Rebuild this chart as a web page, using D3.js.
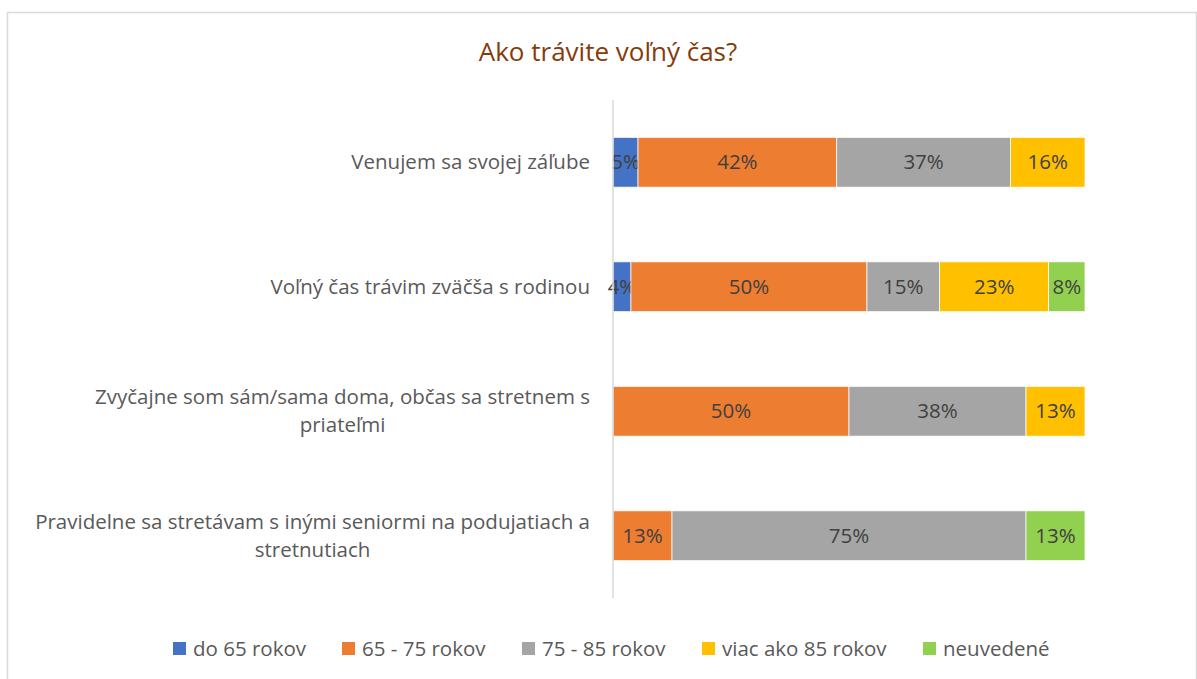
<!DOCTYPE html>
<html>
<head>
<meta charset="utf-8">
<script src="https://cdn.jsdelivr.net/npm/d3@7"></script>
<style>
  body { margin: 0; background: #fff; }
  svg { font-family: "Open Sans", sans-serif; }
</style>
</head>
<body>
<svg id="chart" width="1197" height="679"></svg>
<script>
// categories, top to bottom
var categories = [
    ["Venujem sa svojej záľube"],
    ["Voľný čas trávim zväčša s rodinou"],
    ["Zvyčajne som sám/sama doma, občas sa stretnem s", "priateľmi"],
    ["Pravidelne sa stretávam s inými seniormi na podujatiach a", "stretnutiach"]
];
var seriesNames = ["do 65 rokov", "65 - 75 rokov", "75 - 85 rokov", "viac ako 85 rokov", "neuvedené"];
var seriesColors = ["#4472c4", "#ed7d31", "#a5a5a5", "#ffc000", "#92d050"];
// share of answers in %, one row per category, one column per series
var values = [
    [5.3, 42.1, 36.8, 15.8, 0],
    [3.8, 50.0, 15.4, 23.1, 7.7],
    [0, 50.0, 37.5, 12.5, 0],
    [0, 12.5, 75.0, 0, 12.5]
];

var svg = d3.select("#chart");
var l_left = 613, l_right = 1085, l_top = 100, l_bottom = 598;
var l_fs = 20.5;

// frame
svg.append("rect")
    .attr("x", 7.5).attr("y", 12.5)
    .attr("width", 1189).attr("height", 700)
    .attr("fill", "none").attr("stroke", "#d9d9d9").attr("stroke-width", 1.5);

svg.append("text")
    .attr("x", 608).attr("y", 52)
    .attr("text-anchor", "middle")
    .attr("dy", "0.35em")
    .attr("font-size", 26)
    .attr("fill", "#843c0c")
    .text("Ako trávite voľný čas?");

var x = d3.scaleLinear().domain([0, 100]).range([l_left, l_right]);
var y = d3.scaleBand().domain(d3.range(categories.length)).range([l_top, l_bottom]).paddingInner(0.6).paddingOuter(0.3);

var stackData = values.map(function(row, i) {
    var o = { i: i };
    row.forEach(function(v, k) { o[k] = v; });
    return o;
});
var stack = d3.stack().keys(d3.range(seriesNames.length))(stackData);

var layers = svg.selectAll(".layer")
    .data(stack)
    .enter().append("g")
    .attr("class", "layer")
    .attr("fill", function(d) { return seriesColors[d.key]; });

layers.selectAll("rect")
    .data(function(d) { return d.filter(function(p) { return p[1] - p[0] > 0; }); })
    .enter().append("rect")
    .attr("x", function(d) { return x(d[0]); })
    .attr("y", function(d) { return y(d.data.i); })
    .attr("width", function(d) { return x(d[1]) - x(d[0]); })
    .attr("height", y.bandwidth())
    .attr("stroke", "#fff").attr("stroke-width", 0.75);

layers.selectAll("text")
    .data(function(d) { return d.filter(function(p) { return p[1] - p[0] > 0; }); })
    .enter().append("text")
    .attr("x", function(d) { return (x(d[0]) + x(d[1])) / 2; })
    .attr("y", function(d) { return y(d.data.i) + y.bandwidth() / 2; })
    .attr("dy", "0.35em")
    .attr("text-anchor", "middle")
    .attr("font-size", l_fs)
    .attr("fill", "#404040")
    .text(function(d) { return Math.round(d[1] - d[0]) + "%"; });

// vertical axis line
svg.append("line")
    .attr("x1", l_left).attr("x2", l_left)
    .attr("y1", l_top).attr("y2", l_bottom)
    .attr("stroke", "#d9d9d9").attr("stroke-width", 1.5);

// category labels, wrapped lines centred on the block
var l_labels = svg.selectAll(".cat")
    .data(categories)
    .enter().append("text")
    .attr("class", "cat")
    .attr("font-size", l_fs)
    .attr("fill", "#595959")
    .attr("text-anchor", "middle");
l_labels.each(function(lines, i) {
    var t = d3.select(this);
    var cy = y(i) + y.bandwidth() / 2;
    var lh = 28;
    t.selectAll("tspan").data(lines).enter().append("tspan")
        .attr("y", function(d, k) { return cy + (k - (lines.length - 1) / 2) * lh; })
        .attr("dy", "0.35em")
        .text(function(d) { return d; });
});
// right-align each label block against the axis, keep lines centred within it
l_labels.each(function() {
    var t = d3.select(this);
    var w = d3.max(t.selectAll("tspan").nodes(), function(n) { return n.getComputedTextLength(); });
    t.selectAll("tspan").attr("x", 590 - w / 2);
});

// legend
var legendX = [173, 342, 522, 702, 923];
var legend = svg.selectAll(".legend")
    .data(seriesNames)
    .enter().append("g")
    .attr("class", "legend")
    .attr("transform", function(d, i) { return "translate(" + legendX[i] + ",649)"; });
legend.append("rect")
    .attr("x", 0).attr("y", -7)
    .attr("width", 13).attr("height", 13)
    .attr("fill", function(d, i) { return seriesColors[i]; });
legend.append("text")
    .attr("x", 20).attr("y", 0)
    .attr("dy", "0.35em")
    .attr("font-size", l_fs)
    .attr("fill", "#595959")
    .text(function(d) { return d; });
</script>
</body>
</html>
